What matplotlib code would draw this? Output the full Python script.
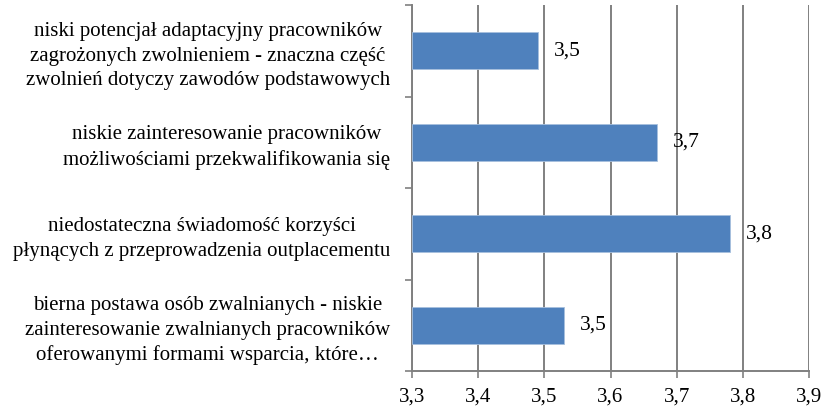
import matplotlib
matplotlib.use("Agg")
import matplotlib.pyplot as plt
from matplotlib.ticker import FuncFormatter, FixedLocator

plt.rcParams['font.family'] = ['Liberation Serif', 'DejaVu Serif']

categories = [
    "niski potencjał adaptacyjny pracowników\nzagrożonych zwolnieniem - znaczna część\nzwolnień dotyczy zawodów podstawowych",
    "niskie zainteresowanie pracowników\nmożliwościami przekwalifikowania się",
    "niedostateczna świadomość korzyści\npłynących z przeprowadzenia outplacementu",
    "bierna postawa osób zwalnianych - niskie\nzainteresowanie zwalnianych pracowników\noferowanymi formami wsparcia, które…",
]
values = [3.49, 3.67, 3.78, 3.53]
x_ticks = [3.3, 3.4, 3.5, 3.6, 3.7, 3.8, 3.9]

fig = plt.figure(figsize=(8.24, 4.08), dpi=100)
ax = fig.add_axes([0.4997, 0.0907, 0.4825, 0.897])

pos = list(range(len(categories)))
ax.barh(pos, [v - x_ticks[0] for v in values], left=x_ticks[0], height=0.4,
        color='#4F81BD', edgecolor='#A7C0DE', linewidth=0.6, zorder=3)

ax.set_xlim(x_ticks[0], x_ticks[-1])
ax.set_ylim(len(categories) - 0.5, -0.5)

ax.set_xticks(x_ticks)
ax.xaxis.set_major_formatter(FuncFormatter(lambda v, p: f"{v:.1f}".replace('.', ',')))
ax.grid(axis='x', color='#808080', linewidth=1.4, zorder=0)

ax.set_yticks(pos)
ax.set_yticklabels(categories, multialignment='center', linespacing=1.4)
ax.yaxis.set_minor_locator(FixedLocator([p - 0.5 for p in pos] + [pos[-1] + 0.5]))
ax.tick_params(axis='y', which='major', length=0, pad=15.5, labelsize=15)
ax.tick_params(axis='y', which='minor', length=5, color='#808080', width=1.2)
ax.tick_params(axis='x', which='major', length=5, color='#808080', width=1.2, pad=7, labelsize=15)

for s in ['top', 'right']:
    ax.spines[s].set_visible(False)
for s in ['left', 'bottom']:
    ax.spines[s].set_color('#808080')
    ax.spines[s].set_linewidth(1.4)

for p, v in zip(pos, values):
    ax.annotate(f"{v:.1f}".replace('.', ','), xy=(v, p), xytext=(11.5, 0),
                textcoords='offset points', va='center', ha='left', fontsize=15.5, zorder=4)

fig.savefig('out.png', dpi=100)
